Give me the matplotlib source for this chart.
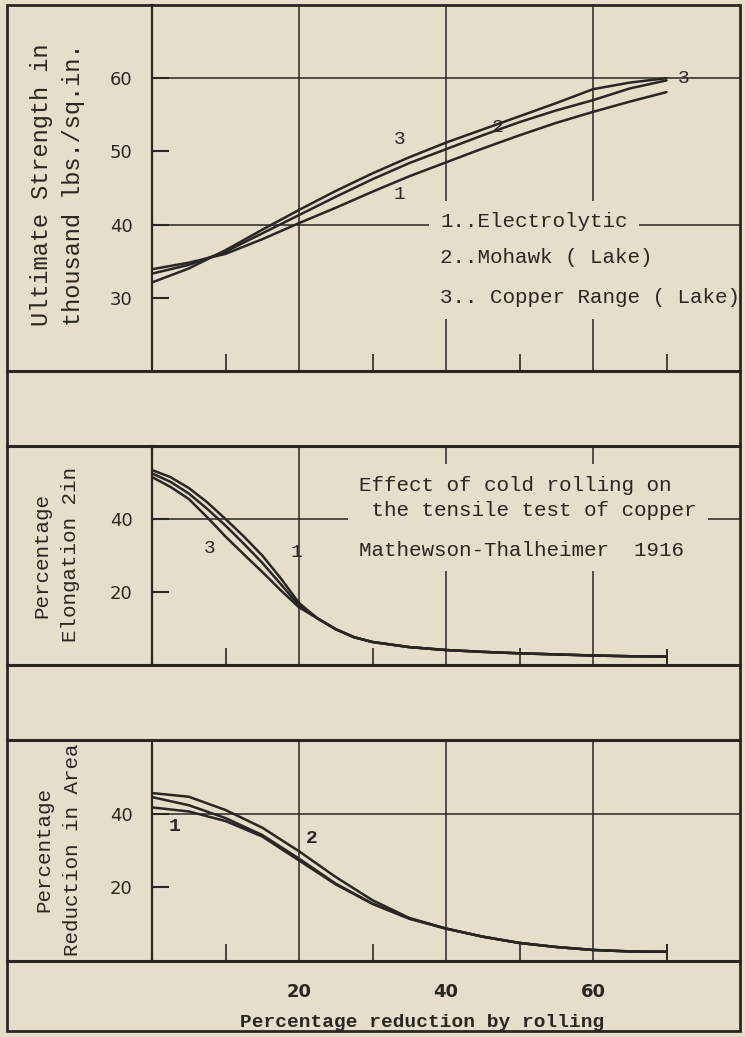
import matplotlib.pyplot as plt
from matplotlib.lines import Line2D
from matplotlib.patches import Rectangle

W, H = 745, 1037
BG = '#e5decb'
INK = '#2a2622'
MONO = 'Liberation Mono'

# percentage reduction by rolling
x_uts = [0, 5, 10, 15, 20, 25, 30, 35, 40, 45, 50, 55, 60, 65, 70]
uts_electrolytic = [33.9, 34.8, 36.0, 38.0, 40.2, 42.3, 44.5, 46.6, 48.5, 50.4, 52.2, 53.9, 55.4, 56.8, 58.1]
uts_mohawk = [33.3, 34.5, 36.3, 38.8, 41.3, 43.8, 46.2, 48.4, 50.3, 52.2, 54.0, 55.6, 57.0, 58.6, 59.7]
uts_copper = [32.1, 34.0, 36.5, 39.3, 42.0, 44.6, 47.0, 49.2, 51.2, 53.0, 54.8, 56.6, 58.5, 59.4, 60.0]

x_elong = [0, 2.5, 5, 7.5, 10, 12.5, 15, 17.5, 20, 22.5, 25, 27.5, 30, 35, 40, 45, 50, 55, 60, 65, 70]
elong_electrolytic = [53.4, 51.5, 48.5, 44.6, 40.0, 35.2, 30.0, 23.8, 17.0, 12.8, 9.8, 7.6, 6.3, 4.9, 4.1, 3.6, 3.2, 2.9, 2.6, 2.4, 2.3]
elong_mohawk = [52.5, 50.2, 47.0, 42.8, 38.2, 33.2, 28.0, 22.2, 16.3, 12.8, 9.8, 7.6, 6.3, 4.9, 4.1, 3.6, 3.2, 2.9, 2.6, 2.4, 2.3]
elong_copper = [51.5, 48.8, 45.5, 40.5, 35.2, 30.3, 25.5, 20.5, 15.8, 12.8, 9.8, 7.6, 6.3, 4.9, 4.1, 3.6, 3.2, 2.9, 2.6, 2.4, 2.3]

x_ra = [0, 5, 10, 15, 20, 25, 30, 35, 40, 45, 50, 55, 60, 65, 70]
ra_electrolytic = [41.7, 40.6, 38.0, 33.8, 27.3, 20.8, 15.5, 11.5, 8.8, 6.6, 4.9, 3.8, 3.0, 2.6, 2.5]
ra_mohawk = [45.6, 44.6, 41.0, 36.2, 29.8, 22.8, 16.5, 11.7, 8.8, 6.6, 4.9, 3.8, 3.0, 2.6, 2.5]
ra_copper = [44.5, 42.3, 38.8, 34.2, 27.8, 21.0, 15.6, 11.5, 8.8, 6.6, 4.9, 3.8, 3.0, 2.6, 2.5]

legend_lines = ['1..Electrolytic', '2..Mohawk ( Lake)', '3.. Copper Range ( Lake)']
legend_y = [40.4, 35.5, 30.0]
note_lines = ['Effect of cold rolling on', ' the tensile test of copper', 'Mathewson-Thalheimer  1916']
note_y = [49.3, 42.4, 31.5]
bottom_labels = [20, 40, 60]

fig = plt.figure(figsize=(W / 100, H / 100), dpi=100)
fig.patch.set_facecolor(BG)


def panel(top, bottom, ylim, yticks, hgrid, xticks):
    ax = fig.add_axes([152 / W, 1 - bottom / H, (740 - 152) / W, (bottom - top) / H])
    ax.set_facecolor(BG)
    ax.set_xlim(0, 80)
    ax.set_ylim(*ylim)
    for s in ['top', 'right', 'bottom']:
        ax.spines[s].set_visible(False)
    ax.spines['left'].set_linewidth(1.6)
    ax.spines['left'].set_color(INK)
    ax.set_xticks(xticks)
    ax.tick_params(axis='x', direction='in', length=12, width=1.2, color=INK, labelbottom=False)
    ax.set_yticks(yticks)
    ax.tick_params(axis='y', direction='in', length=12, width=1.5, color=INK, pad=14,
                   labelsize=13, labelcolor=INK)
    for v in hgrid:
        ax.axhline(v, color=INK, lw=1.1, zorder=1)
    for v in [20, 40, 60]:
        ax.axvline(v, color=INK, lw=1.1, zorder=1)
    return ax


def text_block(ax, x, ys, lines):
    # blank boxes first so that no box hides the line above it
    for y, s in zip(ys, lines):
        ax.text(x, y, s, fontfamily=MONO, fontsize=15, color=(0, 0, 0, 0), va='center', ha='left',
                bbox=dict(boxstyle='square,pad=0.55', fc=BG, ec='none'), zorder=2)
    for y, s in zip(ys, lines):
        ax.text(x, y, s, fontfamily=MONO, fontsize=15, color=INK, va='center', ha='left', zorder=3)


curve = dict(color=INK, lw=1.8, zorder=4, solid_capstyle='round')
lab = dict(fontfamily=MONO, fontsize=14, color=INK, ha='center', va='center', zorder=5)

# --- panel 1: ultimate strength
ax1 = panel(5, 371, (20, 70), [30, 40, 50, 60], [40, 60], [10, 30, 50, 70])
ax1.plot(x_uts, uts_electrolytic, **curve)
ax1.plot(x_uts, uts_mohawk, **curve)
ax1.plot(x_uts, uts_copper, **curve)
text_block(ax1, 39.2, legend_y, legend_lines)
ax1.text(33.7, 51.6, '3', **lab)
ax1.text(33.7, 44.1, '1', **lab)
ax1.text(47.0, 53.3, '2', **lab)
ax1.text(72.3, 59.9, '3', **lab)

# --- panel 2: elongation
ax2 = panel(446, 665, (0, 60), [20, 40], [40], [10, 30, 50])
ax2.plot(x_elong, elong_electrolytic, **curve)
ax2.plot(x_elong, elong_mohawk, **curve)
ax2.plot(x_elong, elong_copper, **curve)
ax2.plot(x_elong[-1], elong_electrolytic[-1], marker='|', ms=11, mew=1.4, color=INK)
text_block(ax2, 28.2, note_y, note_lines)
ax2.text(7.9, 32, '3', **lab)
ax2.text(19.6, 30.7, '1', **lab)

# --- panel 3: reduction in area
ax3 = panel(740, 961, (0, 60), [20, 40], [40], [10, 30, 50])
ax3.plot(x_ra, ra_electrolytic, **curve)
ax3.plot(x_ra, ra_mohawk, **curve)
ax3.plot(x_ra, ra_copper, **curve)
ax3.plot(x_ra[-1], ra_electrolytic[-1], marker='|', ms=11, mew=1.4, color=INK)
ax3.text(3.1, 36.5, '1', fontweight='bold', **lab)
ax3.text(21.8, 33.2, '2', fontweight='bold', **lab)

for v in bottom_labels:
    ax3.text(v, -0.14, str(v), transform=ax3.get_xaxis_transform(), fontsize=13,
             fontweight='bold', color=INK, ha='center', va='center')
ax3.text(0.46, -0.28, 'Percentage reduction by rolling', transform=ax3.transAxes,
         fontfamily=MONO, fontsize=14, fontweight='bold', color=INK, ha='center', va='center')

# y labels (two lines each)
ylab = dict(fontfamily=MONO, color=INK, rotation=90, ha='center', va='center')
fig.text(42 / W, 1 - 185 / H, 'Ultimate Strength in', fontsize=17, **ylab)
fig.text(74 / W, 1 - 185 / H, 'thousand lbs./sq.in.', fontsize=17, **ylab)
fig.text(42 / W, 1 - 555 / H, 'Percentage', fontsize=15, **ylab)
fig.text(70 / W, 1 - 555 / H, 'Elongation 2in', fontsize=15, **ylab)
fig.text(44 / W, 1 - 850 / H, 'Percentage', fontsize=15, **ylab)
fig.text(72 / W, 1 - 850 / H, 'Reduction in Area', fontsize=15, **ylab)

# frame and band separators
fig.add_artist(Rectangle((7 / W, 1 - 1031 / H), 733 / W, 1026 / H, transform=fig.transFigure,
                         fill=False, ec=INK, lw=2.0))
for y in [371, 446, 665, 740, 961]:
    fig.add_artist(Line2D([7 / W, 740 / W], [1 - y / H, 1 - y / H], color=INK, lw=2.2))

fig.savefig('out.png', dpi=100, facecolor=BG)
